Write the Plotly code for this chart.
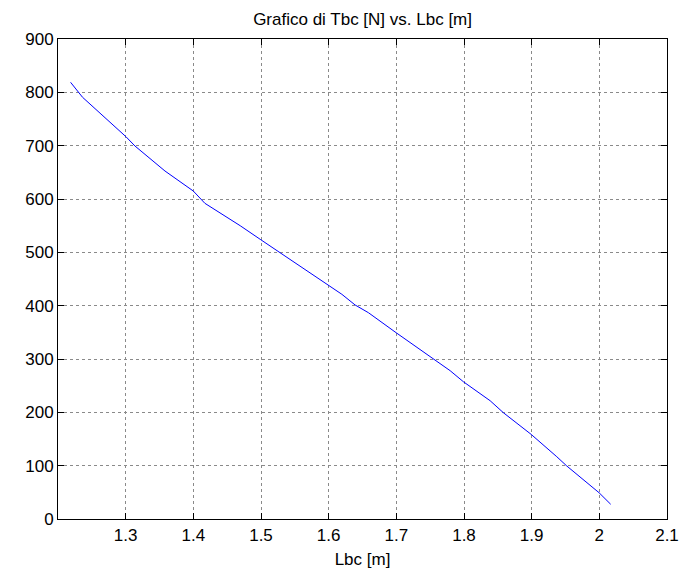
import plotly.graph_objects as go

# Cable length Lbc [m] and tension Tbc [N]
lbc = [1.2186, 1.2363, 1.3004, 1.3137, 1.3581, 1.3999, 1.4171, 1.4693, 1.4988,
       1.5982, 1.6195, 1.6391, 1.6588, 1.6997, 1.7350, 1.7647, 1.7795, 1.7991,
       1.8386, 1.8582, 1.8991, 1.9371, 1.9519, 1.9996, 2.0168]
tbc = [818.8, 790.7, 716.8, 699.4, 652.5, 615.0, 591.9, 549.9, 524.4,
       438.8, 421.3, 401.3, 386.8, 349.3, 318.2, 291.9, 278.1, 257.4,
       221.8, 199.3, 158.8, 116.8, 99.4, 49.3, 27.6]

x_ticks = [1.3, 1.4, 1.5, 1.6, 1.7, 1.8, 1.9, 2.0, 2.1]
x_tick_text = ["1.3", "1.4", "1.5", "1.6", "1.7", "1.8", "1.9", "2", "2.1"]
y_ticks = [0, 100, 200, 300, 400, 500, 600, 700, 800, 900]

font = "Liberation Sans, Arial, sans-serif"

fig = go.Figure(
    go.Scatter(x=lbc, y=tbc, mode="lines",
               line=dict(color="#0000ff", width=1), showlegend=False)
)

axis_common = dict(
    showline=True, linecolor="black", linewidth=1, mirror="allticks",
    ticks="inside", ticklen=6, tickcolor="black", tickwidth=1,
    showgrid=True, gridcolor="#8a8a8a", griddash="dot", gridwidth=1,
    zeroline=False, automargin=False,
    tickfont=dict(family=font, size=17, color="black"),
)

fig.update_xaxes(range=[1.2, 2.1], tickvals=x_ticks, ticktext=x_tick_text,
                 ticklabelstandoff=1,
                 title=dict(text="Lbc [m]", font=dict(family=font, size=17, color="black"),
                            standoff=12),
                 **axis_common)
fig.update_yaxes(range=[0, 900], tickvals=y_ticks, **axis_common)

fig.update_layout(
    width=688, height=569,
    margin=dict(l=58, r=21, t=39, b=50),
    paper_bgcolor="white", plot_bgcolor="white",
    title=dict(text="Grafico di Tbc [N] vs. Lbc [m]", x=0.527, xanchor="center",
               y=0.966, yanchor="middle",
               font=dict(family=font, size=17, color="black")),
)

fig.write_html("out.html")
